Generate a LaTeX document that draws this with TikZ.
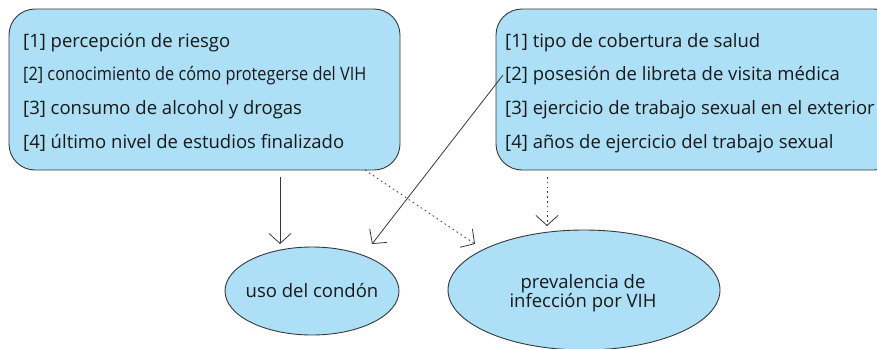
\documentclass[tikz,border=0pt]{standalone}
\usepackage{fontspec}
\setmainfont{Open Sans}
\usetikzlibrary{arrows.meta,shapes.geometric}
\definecolor{boxfill}{RGB}{173,224,246}
\definecolor{edge}{RGB}{55,55,55}
\definecolor{txt}{RGB}{25,25,25}
\tikzset{
  panel/.style={draw=edge, fill=boxfill, line width=0.9pt, rounded corners=26pt},
  oval/.style={draw=edge, fill=boxfill, line width=0.9pt},
  item/.style={anchor=base west, inner sep=0pt, text=txt, font=\fontsize{18.5}{19}\selectfont},
  lbl/.style={anchor=base, inner sep=0pt, text=txt, align=center, font=\fontsize{18.5}{19}\selectfont},
  link/.style={draw=edge, line width=0.8pt, -{Straight Barb[length=10pt,width=22pt,line width=0.8pt]}},
  dotlink/.style={link, dash pattern=on 1.6pt off 3.2pt}
}
\begin{document}
\begin{tikzpicture}[x=1pt,y=-1pt]
\useasboundingbox (0,0) rectangle (877,348);
% boxes
\draw[panel] (9,9) rectangle (400,170);
\draw[panel] (496,9) rectangle (900,170);
% ellipses
\node[oval, ellipse, minimum width=174pt, minimum height=88pt, inner sep=0pt] (uso) at (312,291) {};
\node[oval, ellipse, minimum width=272pt, minimum height=120pt, inner sep=0pt] (prev) at (584,290) {};
\node[lbl] (usot) at (312,297) {uso del condón};
\node[lbl] (prevt) at (583,307) {prevalencia de\\infección por VIH};
% left items
\node[item] (l1) at (23,47) {[1] percepción de riesgo};
\node[item] (l2) at (23,80.7) {\scalebox{0.882}[1]{[2] conocimiento de cómo protegerse del VIH}};
\node[item] (l3) at (23,114.3) {[3] consumo de alcohol y drogas};
\node[item] (l4) at (23,148) {[4] último nivel de estudios finalizado};
% right items
\node[item] (r1) at (505,47) {[1] tipo de cobertura de salud};
\node[item] (r2) at (505,80.7) {[2] posesión de libreta de visita médica};
\node[item] (r3) at (505,114.3) {[3] ejercicio de trabajo sexual en el exterior};
\node[item] (r4) at (505,148) {[4] años de ejercicio del trabajo sexual};
% connector coordinates
\coordinate (a1s) at (280,177);
\coordinate (a1e) at (280,244);
\coordinate (a2s) at (503,75);
\coordinate (a2e) at (372,244);
\coordinate (a3s) at (365,170);
\coordinate (a3e) at (475,244);
\coordinate (a4s) at (547,177);
\coordinate (a4e) at (547,226);
\draw[link] (a1s) -- (a1e);
\draw[link] (a2s) -- (a2e);
\draw[dotlink] (a3s) -- (a3e);
\draw[dotlink] (a4s) -- (a4e);
\end{tikzpicture}
\end{document}
